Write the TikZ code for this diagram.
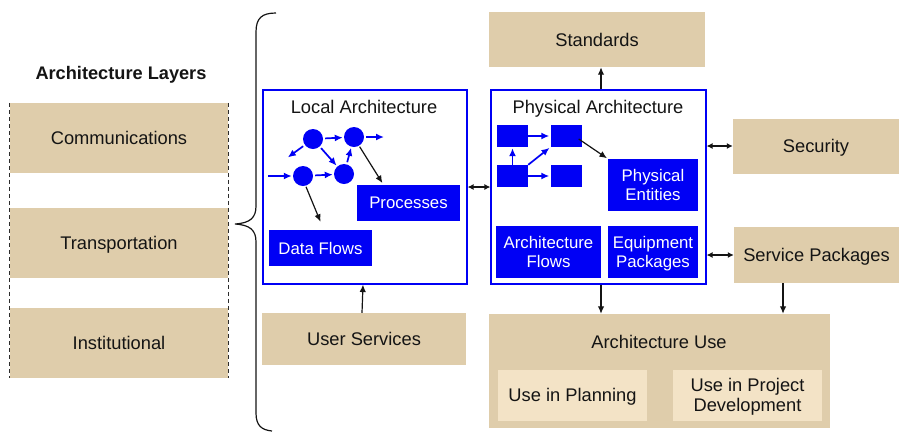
\documentclass[tikz,border=0pt]{standalone}
\usepackage{fontspec}
\setmainfont{Liberation Sans}
\usetikzlibrary{arrows.meta}

\definecolor{tan}{RGB}{223,205,171}
\definecolor{lighttan}{RGB}{243,227,198}
\definecolor{archblue}{RGB}{0,0,245}
\definecolor{ink}{RGB}{20,20,20}

\tikzset{
  big/.style={font=\fontsize{18.3}{20.5}\selectfont, text=ink, text depth=0pt},
  small/.style={font=\fontsize{16.8}{19.5}\selectfont, text depth=0pt},
  tanbox/.style={big, fill=tan, draw=none, inner sep=0pt, align=center},
  lightbox/.style={big, fill=lighttan, draw=none, inner sep=0pt, align=center},
  frame/.style={draw=archblue, line width=1.1pt, fill=white, inner sep=0pt},
  bluebox/.style={small, fill=archblue, text=white, draw=none, inner sep=0pt, align=center},
  dot/.style={circle, fill=archblue, draw=none, minimum size=20pt, inner sep=0pt},
  blk/.style={fill=archblue, draw=none, inner sep=0pt, minimum width=31pt, minimum height=22pt},
  arr/.style={-{Latex[length=7.5pt,width=6.5pt]}, line width=1.2pt, draw=ink},
  darr/.style={{Latex[length=6pt,width=6pt]}-{Latex[length=6pt,width=6pt]}, line width=1.2pt, draw=ink},
  barr/.style={-{Latex[length=8pt,width=7pt]}, line width=1.7pt, draw=archblue, shorten <=2pt, shorten >=1pt},
  side/.style={dash pattern=on 4pt off 3pt, line width=1.1pt, draw=ink!90},
}

\begin{document}
\begin{tikzpicture}[x=1pt,y=-1pt]
\useasboundingbox (0,0) rectangle (899,432);

% ---- left column: layers ----
\node[big, font=\fontsize{18.2}{20}\selectfont\bfseries] (layers) at (121,73) {Architecture Layers};
\node[tanbox, minimum width=218, minimum height=70] (comm) at (119,138) {Communications};
\node[tanbox, minimum width=218, minimum height=70] (trans) at (119,243) {Transportation};
\node[tanbox, minimum width=218, minimum height=70] (inst) at (119,343) {Institutional};
\draw[side] (comm.north west) -- (inst.south west);
\draw[side] (comm.north east) -- (inst.south east);

% ---- brace ----
\draw[line width=1.2pt, ink] (276,13) .. controls (262,13) and (256,18) .. (256,32)
  -- (256,206) .. controls (256,218) and (250,223) .. (235,224)
  .. controls (250,225) and (256,230) .. (256,242)
  -- (256,413) .. controls (256,426) and (262,430) .. (272,431);

% ---- local architecture ----
\node[frame, minimum width=204, minimum height=194] (loc) at (365,187) {};
\node[big] (loctitle) at (364,107) {Local Architecture};
\node[dot] (c1) at (313,139) {};
\node[dot] (c2) at (354,137) {};
\node[dot] (c3) at (303,176) {};
\node[dot] (c4) at (344,174) {};
\coordinate (cin) at (268,176);
\coordinate (cleft) at (287,158);
\coordinate (cright) at (384,137);
\node[bluebox, minimum width=103, minimum height=36] (proc) at (408.5,203) {Processes};
\node[bluebox, minimum width=103, minimum height=36] (df) at (320.5,248) {Data Flows};
\draw[barr, shorten <=0pt] (cin) -- (c3);
\draw[barr] (c1) -- (cleft);
\draw[barr] (c1) -- (c2);
\draw[barr] (c1) -- (c4);
\draw[barr] (c3) -- (c4);
\draw[barr] (c4) -- (c2);
\draw[barr, shorten >=0pt] (c2) -- (cright);
\draw[arr, shorten <=1pt, shorten >=2pt] (c2.-60) -- ([xshift=-25pt]proc.north);
\draw[arr, shorten <=1pt] (c3.-75) -- ([yshift=8pt]df.north);

% ---- physical architecture ----
\node[frame, minimum width=215, minimum height=194] (phys) at (598.5,187) {};
\node[big] (phystitle) at (598,107) {Physical Architecture};
\node[blk] (r1) at (512.5,136) {};
\node[blk] (r2) at (566,136) {};
\node[blk] (r3) at (512.5,176) {};
\node[blk] (r4) at (566,176) {};
\node[bluebox, minimum width=90, minimum height=52] (pe) at (653,185) {Physical\\Entities};
\node[bluebox, minimum width=105, minimum height=52] (af) at (548.5,252) {Architecture\\Flows};
\node[bluebox, minimum width=90, minimum height=52] (ep) at (653,252) {Equipment\\Packages};
\draw[barr, shorten <=0pt] (r1) -- (r2);
\draw[barr, shorten <=0pt] (r3) -- (r4);
\draw[barr, shorten <=0pt] (r3) -- (r1);
\draw[barr, shorten <=0pt] (r3.north east) -- (r2.south west);
\draw[arr, shorten >=1pt] ([xshift=-3pt,yshift=-3pt]r2.east) -- (pe.north west);

% ---- outer boxes ----
\node[tanbox, minimum width=216, minimum height=55] (std) at (597,39.5) {Standards};
\node[tanbox, minimum width=166, minimum height=55] (sec) at (816,146) {Security};
\node[tanbox, minimum width=165, minimum height=56] (svc) at (816.5,255) {Service Packages};
\node[tanbox, minimum width=204, minimum height=52] (usr) at (364,339) {User Services};
\node[tanbox, minimum width=341, minimum height=114] (use) at (659.5,371) {};
\node[big] (usetitle) at (659,342) {Architecture Use};
\node[lightbox, minimum width=149, minimum height=51] (plan) at (572.5,395) {Use in Planning};
\node[lightbox, minimum width=149, minimum height=51] (proj) at (747.5,395) {Use in Project\\Development};

% ---- connectors ----
\draw[darr] (loc.east) -- (phys.west);
\draw[arr] ([xshift=2.5pt]phys.north) -- ([xshift=2.5pt]phys.north |- std.south);
\draw[darr] (phys.east |- sec.west) -- (sec.west);
\draw[darr] (phys.east |- svc.west) -- (svc.west);
\draw[arr] ([xshift=-2pt]usr.north) -- ([xshift=-2pt]loc.south);
\draw[arr] ([xshift=2.5pt]phys.south) -- ([xshift=2.5pt]phys.south |- use.north);
\draw[arr] ([xshift=-33.5pt]svc.south) -- ([xshift=-33.5pt]svc.south |- use.north);
\end{tikzpicture}
\end{document}
